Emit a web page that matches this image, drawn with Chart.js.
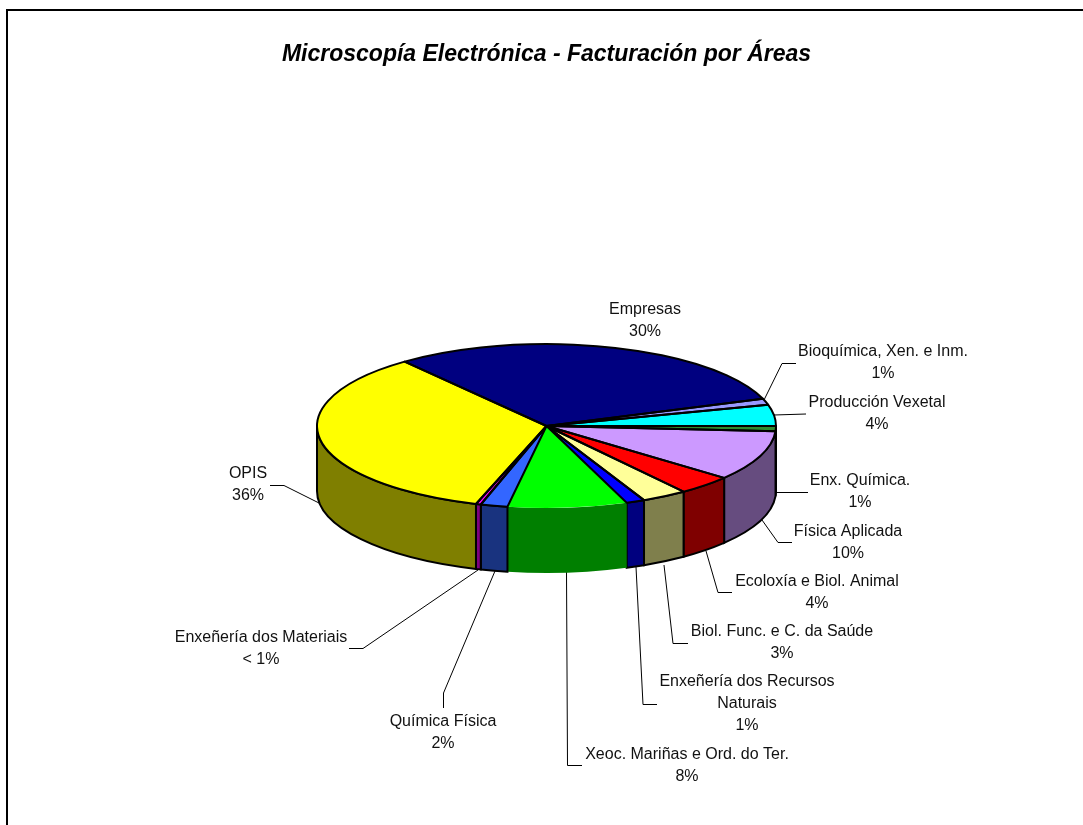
<!DOCTYPE html>
<html>
<head>
<meta charset="utf-8">
<title>Microscopía Electrónica</title>
<script src="https://cdn.jsdelivr.net/npm/chart.js@4"></script>
<style>
  html, body { margin: 0; padding: 0; background: #fff; }
  #wrap { position: relative; width: 1083px; height: 825px; overflow: hidden; }
  /* the frame runs off the right and bottom of the picture */
  #frame { position: absolute; left: 6px; top: 9px; width: 1200px; height: 900px; border: 2px solid #000; box-sizing: border-box; }
  canvas { position: absolute; left: 0; top: 0; }
</style>
</head>
<body>
<div id="wrap">
  <div id="frame"></div>
  <canvas id="pie" width="1083" height="825"></canvas>
</div>
<script>
const titleText = 'Microscopía Electrónica - Facturación por Áreas';

// slice shares (angle of each slice, in %)
const areas = ['Empresas', 'Bioquímica, Xen. e Inm.', 'Producción Vexetal', 'Enx. Química.', 'Física Aplicada',
  'Ecoloxía e Biol. Animal', 'Biol. Func. e C. da Saúde', 'Enxeñería dos Recursos Naturais',
  'Xeoc. Mariñas e Ord. do Ter.', 'Química Física', 'Enxeñería dos Materiais', 'OPIS'];
const shares = [30.2, 1.2, 4.2, 1.0, 9.9, 3.9, 3.2, 1.3, 8.4, 1.9, 0.35, 34.4];
const percentLabels = ['30%', '1%', '4%', '1%', '10%', '4%', '3%', '1%', '8%', '2%', '< 1%', '36%'];
const topColours = ['#000080', '#9999ff', '#00ffff', '#2e8b2e', '#cc99ff', '#ff0000', '#ffff99', '#0000ff', '#00ff00', '#3366ff', '#ff00ff', '#ffff00'];

// label text lines and where they go (centre x, first line y), plus the leader line
const labelLines = [
  ['Empresas'], ['Bioquímica, Xen. e Inm.'], ['Producción Vexetal'], ['Enx. Química.'], ['Física Aplicada'],
  ['Ecoloxía e Biol. Animal'], ['Biol. Func. e C. da Saúde'], ['Enxeñería dos Recursos', 'Naturais'],
  ['Xeoc. Mariñas e Ord. do Ter.'], ['Química Física'], ['Enxeñería dos Materiais'], ['OPIS']
];
const labelAt = [[645, 310], [883, 352], [877, 403], [860, 481], [848, 532], [817, 582], [782, 632], [747, 682], [687, 755], [443, 722], [261, 638], [248, 474]];
const leaders = [
  null,
  [[764, 400], [782, 363.5], [796, 363.5]],
  [[774, 415], [806, 414]],
  [[776, 492.5], [808, 492.5]],
  [[762, 520], [778, 542.5], [792, 542.5]],
  [[706, 551], [718, 592.5], [732, 592.5]],
  [[664, 565], [673, 643.5], [688, 643.5]],
  [[636, 567], [643, 704.5], [657, 704.5]],
  [[566.5, 572], [567.5, 765.5], [582, 765.5]],
  [[495, 571], [443.5, 693], [443.5, 708]],
  [[478, 570], [363, 648.5], [349, 648.5]],
  [[319, 503], [284, 485.5], [270, 485.5]]
];

const squash = 0.357;   // ellipse height / width
const depth = 65;       // wall height
const noOutline = 8;    // the green slice has no black edge in the original

function halfColour(hex) {
  const n = parseInt(hex.slice(1), 16);
  const r = (n >> 16) >> 1, g = ((n >> 8) & 255) >> 1, b = (n & 255) >> 1;
  return `rgb(${r},${g},${b})`;
}

// Chart.js has no 3D pie, so squash its arcs and add the walls around them
const pie3d = {
  id: 'pie3d',
  beforeDatasetsDraw(chart) {
    const ctx = chart.ctx;
    const arcs = chart.getDatasetMeta(0).data;

    // leader lines go behind the pie
    ctx.save();
    ctx.strokeStyle = '#000';
    ctx.lineWidth = 1;
    leaders.forEach(pts => {
      if (!pts) return;
      ctx.beginPath();
      pts.forEach((p, i) => i ? ctx.lineTo(p[0], p[1]) : ctx.moveTo(p[0], p[1]));
      ctx.stroke();
    });
    ctx.restore();

    // front walls
    arcs.forEach((arc, i) => {
      const p = arc.getProps(['x', 'y', 'startAngle', 'endAngle', 'outerRadius'], true);
      const tau = Math.PI * 2;
      let a = p.startAngle, b = p.endAngle;
      const turn = Math.floor(a / tau) * tau;
      a -= turn; b -= turn;
      // visible part of the wall is between 0 and PI on the canvas
      const ranges = [[a, b], [a - tau, b - tau]];
      ranges.forEach(r => {
        const s = Math.max(r[0], 0), e = Math.min(r[1], Math.PI);
        if (e <= s) return;
        const rx = p.outerRadius, ry = rx * squash;
        ctx.save();
        ctx.beginPath();
        ctx.ellipse(p.x, p.y, rx, ry, 0, s, e);
        ctx.ellipse(p.x, p.y + depth, rx, ry, 0, e, s, true);
        ctx.closePath();
        ctx.fillStyle = halfColour(topColours[i]);
        ctx.fill();
        if (i !== noOutline) {
          ctx.strokeStyle = '#000';
          ctx.lineWidth = 2;
          ctx.stroke();
        }
        ctx.restore();
      });
    });

    // squash the arcs the library is about to draw
    const c = arcs[0];
    ctx.save();
    ctx.translate(c.x, c.y);
    ctx.scale(1, squash);
    ctx.translate(-c.x, -c.y);
  },
  afterDatasetsDraw(chart) {
    const ctx = chart.ctx;
    ctx.restore();
    const arcs = chart.getDatasetMeta(0).data;

    // outlines stroked without the squash so the line width stays even
    arcs.forEach((arc, i) => {
      if (i === noOutline) return;
      const p = arc.getProps(['x', 'y', 'startAngle', 'endAngle', 'outerRadius'], true);
      const rx = p.outerRadius, ry = rx * squash;
      ctx.save();
      ctx.beginPath();
      ctx.moveTo(p.x, p.y);
      ctx.ellipse(p.x, p.y, rx, ry, 0, p.startAngle, p.endAngle);
      ctx.closePath();
      ctx.strokeStyle = '#000';
      ctx.lineWidth = 2;
      ctx.lineJoin = 'round';
      ctx.stroke();
      ctx.restore();
    });

    // slice labels
    ctx.save();
    ctx.font = '16px "Liberation Sans", Arial, sans-serif';
    ctx.fillStyle = '#111';
    ctx.textAlign = 'center';
    ctx.textBaseline = 'middle';
    labelLines.forEach((lines, i) => {
      const all = lines.concat(percentLabels[i]);
      all.forEach((t, j) => ctx.fillText(t, labelAt[i][0], labelAt[i][1] + j * 21.6));
    });
    ctx.restore();
  }
};

new Chart(document.getElementById('pie'), {
  type: 'pie',
  data: {
    labels: areas,
    datasets: [{
      data: shares,
      backgroundColor: topColours,
      borderWidth: 0
    }]
  },
  options: {
    responsive: false,
    animation: false,
    rotation: -38.2,
    // left/right only nudge the centre; the title needs the full width
    layout: { padding: { left: 10, right: 0, top: 0, bottom: 169.5 } },
    plugins: {
      legend: { display: false },
      tooltip: { enabled: false },
      title: {
        display: true,
        text: titleText,
        color: '#000',
        font: { family: '"Liberation Sans", Arial, sans-serif', size: 23, weight: 'bold', style: 'italic', lineHeight: 1.2 },
        padding: { top: 41, bottom: 127.9 }
      }
    }
  },
  plugins: [pie3d]
});
</script>
</body>
</html>
